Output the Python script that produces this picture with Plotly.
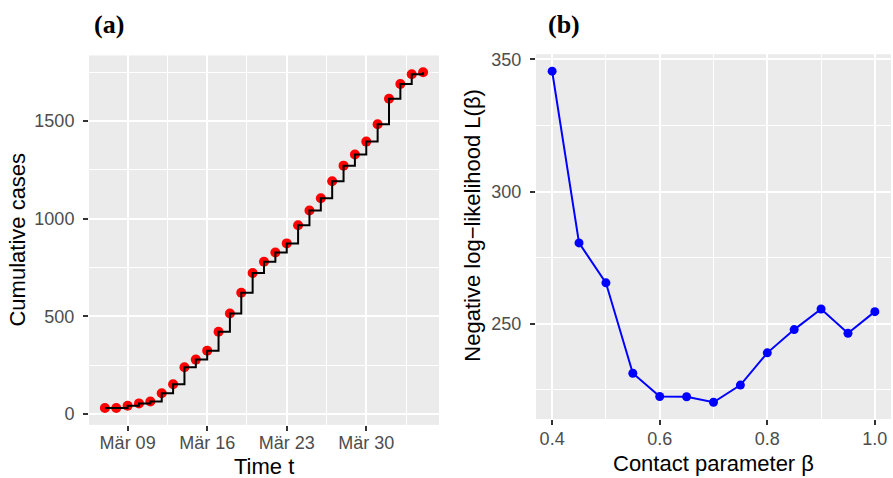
import plotly.graph_objects as go

# ---- data ----
dates = ["2020-03-07", "2020-03-08", "2020-03-09", "2020-03-10", "2020-03-11",
         "2020-03-12", "2020-03-13", "2020-03-14", "2020-03-15", "2020-03-16",
         "2020-03-17", "2020-03-18", "2020-03-19", "2020-03-20", "2020-03-21",
         "2020-03-22", "2020-03-23", "2020-03-24", "2020-03-25", "2020-03-26",
         "2020-03-27", "2020-03-28", "2020-03-29", "2020-03-30", "2020-03-31",
         "2020-04-01", "2020-04-02", "2020-04-03", "2020-04-04"]
cases = [30, 30, 42, 54, 64, 106, 152, 239, 278, 324, 421, 514, 620, 721, 779,
         826, 873, 966, 1041, 1104, 1191, 1271, 1328, 1394, 1483, 1613, 1689, 1739, 1749]

date_tick_vals = ["2020-03-09", "2020-03-16", "2020-03-23", "2020-03-30"]
date_tick_text = ["Mär 09", "Mär 16", "Mär 23", "Mär 30"]
date_minor_vals = ["2020-03-12 12:00", "2020-03-19 12:00", "2020-03-26 12:00", "2020-04-02 12:00"]
cases_ticks = [0, 500, 1000, 1500]
cases_minor = [250, 750, 1250, 1750]

beta = [0.40, 0.45, 0.50, 0.55, 0.60, 0.65, 0.70, 0.75, 0.80, 0.85, 0.90, 0.95, 1.00]
negloglik = [345.6, 280.6, 265.5, 231.3, 222.5, 222.4, 220.3, 226.8, 239.0, 247.8, 255.6, 246.4, 254.6]
beta_ticks = [0.4, 0.6, 0.8, 1.0]
beta_tick_text = ["0.4", "0.6", "0.8", "1.0"]
beta_minor = [0.5, 0.7, 0.9]
ll_ticks = [250, 300, 350]
ll_minor = [225, 275, 325]

# ---- figure ----
W, H = 893, 478
FONT = "Liberation Sans, Arial, Helvetica, sans-serif"
TICKFONT = dict(family=FONT, size=18, color="#4D4D4D")
PANEL = "#EBEBEB"

fig = go.Figure()

fig.add_trace(go.Scatter(x=dates, y=cases, mode="markers",
                         marker=dict(color="#FF0000", size=10), xaxis="x", yaxis="y",
                         showlegend=False, hoverinfo="x+y"))
fig.add_trace(go.Scatter(x=dates, y=cases, mode="lines",
                         line=dict(color="black", width=2, shape="hv"), xaxis="x", yaxis="y",
                         showlegend=False, hoverinfo="skip"))
fig.add_trace(go.Scatter(x=beta, y=negloglik, mode="lines+markers",
                         line=dict(color="#0000FF", width=2),
                         marker=dict(color="#0000FF", size=9), xaxis="x2", yaxis="y2",
                         showlegend=False))

def ax(**kw):
    base = dict(showgrid=True, gridcolor="white", gridwidth=2, zeroline=False,
                showline=False, ticks="outside", ticklen=5, tickwidth=1.5,
                tickcolor="#333333", tickfont=TICKFONT, tickmode="array")
    base.update(kw)
    return base

fig.update_layout(
    width=W, height=H, margin=dict(l=0, r=0, t=0, b=0),
    paper_bgcolor="white", plot_bgcolor=PANEL,
    xaxis=ax(domain=[89 / W, 439 / W], type="date",
             range=["2020-03-05 14:24", "2020-04-05 09:36"],
             tickvals=date_tick_vals, ticktext=date_tick_text,
             minor=dict(tickvals=date_minor_vals, showgrid=True, gridcolor="white",
                        gridwidth=1, ticks=""),
             ticklabelstandoff=-3, anchor="y"),
    yaxis=ax(domain=[1 - 424.3 / H, 1 - 51 / H], range=[-56, 1835],
             tickvals=cases_ticks, ticktext=[str(v) for v in cases_ticks],
             minor=dict(tickvals=cases_minor, showgrid=True, gridcolor="white",
                        gridwidth=1, ticks=""),
             ticklabelstandoff=5, anchor="x"),
    xaxis2=ax(domain=[536 / W, 891 / W], range=[0.37, 1.03],
              tickvals=beta_ticks, ticktext=beta_tick_text,
              minor=dict(tickvals=beta_minor, showgrid=True, gridcolor="white",
                         gridwidth=1, ticks=""),
              ticklabelstandoff=-2, anchor="y2"),
    yaxis2=ax(domain=[1 - 418.3 / H, 1 - 50 / H], range=[214.0, 351.9],
              tickvals=ll_ticks, ticktext=[str(v) for v in ll_ticks],
              minor=dict(tickvals=ll_minor, showgrid=True, gridcolor="white",
                         gridwidth=1, ticks=""),
              ticklabelstandoff=5, anchor="x2"),
)

fig.add_shape(type="rect", xref="x2 domain", yref="y2 domain", x0=0, x1=1, y0=0, y1=1,
              fillcolor=PANEL, line=dict(width=0), layer="below")

TITLEFONT = dict(family=FONT, size=22, color="black")
annots = [
    dict(text="Time t", x=264 / W, y=1 - 466 / H, yanchor="middle", textangle=0),
    dict(text="Cumulative cases", x=18 / W, y=1 - 237 / H, yanchor="middle", textangle=-90),
    dict(text="Contact parameter β", x=713 / W, y=1 - 463 / H, yanchor="middle", textangle=0),
    dict(text="Negative log−likelihood L(β)", x=473 / W, y=1 - 223 / H, yanchor="middle",
         textangle=-90),
]
for a in annots:
    fig.add_annotation(xref="paper", yref="paper", showarrow=False, borderpad=0,
                       xanchor="center", font=TITLEFONT, **a)

PFONT = dict(family="Liberation Serif, Times New Roman, serif", size=26, color="black")
fig.add_annotation(text="<b>(a)</b>", x=109 / W, y=1 - 20 / H, xref="paper", yref="paper",
                   showarrow=False, xanchor="center", yanchor="middle", font=PFONT)
fig.add_annotation(text="<b>(b)</b>", x=564 / W, y=1 - 20 / H, xref="paper", yref="paper",
                   showarrow=False, xanchor="center", yanchor="middle", font=PFONT)

fig.write_html("out.html", config={"displayModeBar": False},
               post_script="document.body.style.margin='0';document.body.style.padding='0';")
